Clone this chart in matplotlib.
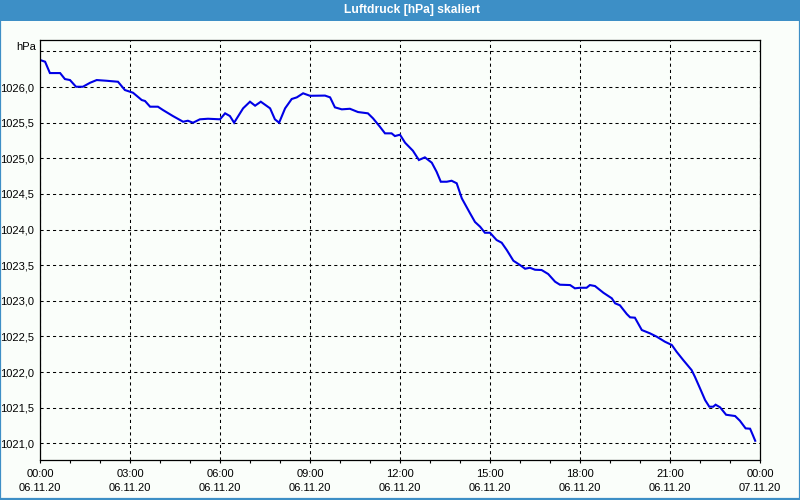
import matplotlib
matplotlib.use("Agg")
import matplotlib.pyplot as plt
from matplotlib.patches import Rectangle
from matplotlib.ticker import MultipleLocator, FixedLocator, FixedFormatter

title = "Luftdruck [hPa] skaliert"
unit = "hPa"

hours = [0.0, 0.17, 0.33, 0.67, 0.83, 1.0, 1.2, 1.43, 1.67, 1.89, 2.22, 2.6, 2.83,
         3.1, 3.39, 3.5, 3.67, 3.93, 4.1, 4.43, 4.77, 4.93, 5.1, 5.33, 5.6, 6.0,
         6.17, 6.33, 6.47, 6.77, 7.0, 7.17, 7.36, 7.67, 7.83, 7.97, 8.17, 8.39,
         8.56, 8.77, 9.0, 9.5, 9.67, 9.83, 10.06, 10.33, 10.6, 10.93, 11.1, 11.33,
         11.5, 11.72, 11.83, 12.0, 12.17, 12.43, 12.63, 12.83, 13.06, 13.22, 13.36,
         13.56, 13.72, 13.89, 14.06, 14.33, 14.5, 14.67, 14.83, 15.0, 15.22, 15.39,
         15.56, 15.78, 16.0, 16.17, 16.33, 16.5, 16.72, 16.94, 17.17, 17.33, 17.67,
         17.83, 18.0, 18.22, 18.33, 18.5, 18.78, 19.06, 19.17, 19.33, 19.56, 19.67,
         19.83, 20.06, 20.33, 20.56, 20.83, 21.06, 21.22, 21.44, 21.72, 21.83, 22.0,
         22.17, 22.31, 22.44, 22.52, 22.67, 22.87, 23.17, 23.33, 23.52, 23.67, 23.76,
         23.84]
pressure = [1026.38, 1026.355, 1026.196, 1026.196, 1026.112, 1026.098, 1026.004,
            1026.004, 1026.06, 1026.098, 1026.088, 1026.074, 1025.958, 1025.92,
            1025.818, 1025.804, 1025.724, 1025.724, 1025.677, 1025.593, 1025.513,
            1025.527, 1025.499, 1025.547, 1025.555, 1025.547, 1025.631, 1025.593,
            1025.499, 1025.701, 1025.794, 1025.738, 1025.794, 1025.701, 1025.547,
            1025.499, 1025.701, 1025.832, 1025.855, 1025.912, 1025.877, 1025.88,
            1025.855, 1025.715, 1025.687, 1025.695, 1025.649, 1025.631, 1025.561,
            1025.443, 1025.35, 1025.35, 1025.312, 1025.331, 1025.218, 1025.106,
            1024.976, 1025.013, 1024.938, 1024.811, 1024.671, 1024.671, 1024.685,
            1024.649, 1024.438, 1024.232, 1024.106, 1024.04, 1023.955, 1023.955,
            1023.853, 1023.815, 1023.712, 1023.562, 1023.502, 1023.45, 1023.464,
            1023.436, 1023.432, 1023.376, 1023.268, 1023.226, 1023.221, 1023.175,
            1023.183, 1023.183, 1023.221, 1023.207, 1023.113, 1023.035, 1022.965,
            1022.937, 1022.814, 1022.768, 1022.763, 1022.59, 1022.544, 1022.496,
            1022.426, 1022.38, 1022.285, 1022.169, 1022.028, 1021.934, 1021.772,
            1021.607, 1021.514, 1021.514, 1021.542, 1021.505, 1021.401, 1021.383,
            1021.317, 1021.21, 1021.205, 1021.117, 1021.036]

xtick_hours = [0, 3, 6, 9, 12, 15, 18, 21, 24]
xtick_labels = ["00:00\n06.11.20", "03:00\n06.11.20", "06:00\n06.11.20",
                "09:00\n06.11.20", "12:00\n06.11.20", "15:00\n06.11.20",
                "18:00\n06.11.20", "21:00\n06.11.20", "00:00\n07.11.20"]
ytick_values = [1021.0, 1021.5, 1022.0, 1022.5, 1023.0, 1023.5, 1024.0,
                1024.5, 1025.0, 1025.5, 1026.0, 1026.5]

BG = "#FAFEFA"
BLUE_BAR = "#3D8FC6"
LINE = "#0000E6"

plt.rcParams['font.family'] = ['Liberation Sans', 'DejaVu Sans']
fig = plt.figure(figsize=(8, 5), dpi=100, facecolor=BG)

# window chrome
fig.patches.append(Rectangle((0, 1 - 21 / 500), 1, 21 / 500, transform=fig.transFigure,
                             facecolor=BLUE_BAR, edgecolor='none', zorder=0))
fig.patches.append(Rectangle((0.0006, 0.002), 0.9988, 0.996, transform=fig.transFigure,
                             facecolor='none', edgecolor=BLUE_BAR, linewidth=1.6, zorder=0))
fig.text(412 / 800, 1 - 10.5 / 500, title, color='white', ha='center', va='center',
         fontsize=8.7, fontweight='bold')

ax = fig.add_axes([40 / 800, 40 / 500, 720 / 800, 420 / 500])
ax.set_facecolor(BG)
ax.plot(hours, pressure, color=LINE, linewidth=1.5, solid_joinstyle='miter')

ax.set_xlim(0, 24)
ax.set_ylim(1020.766, 1026.66)

ax.xaxis.set_major_locator(FixedLocator(xtick_hours))
ax.xaxis.set_major_formatter(FixedFormatter(xtick_labels))
ax.xaxis.set_minor_locator(MultipleLocator(1))
ax.yaxis.set_major_locator(FixedLocator(ytick_values))
ax.set_yticklabels([f"{v:.1f}".replace('.', ',') if v < 1026.4 else "" for v in ytick_values])

ax.tick_params(axis='x', which='both', direction='out', length=2.5, width=0.8,
               color='black', labelsize=8, pad=4)
ax.tick_params(axis='y', which='both', length=0, labelsize=8, pad=4)
for lab in ax.get_xticklabels():
    lab.set_linespacing(1.5)

ax.grid(True, which='major', color='black', linestyle=(0, (3, 3)), linewidth=0.75)
for s in ax.spines.values():
    s.set_color('black')
    s.set_linewidth(0.9)

ax.text(-4 / 720, 1 - 7 / 420, unit, transform=ax.transAxes, ha='right', va='center',
        fontsize=8)

fig.savefig("out.png", dpi=100, facecolor=BG)
